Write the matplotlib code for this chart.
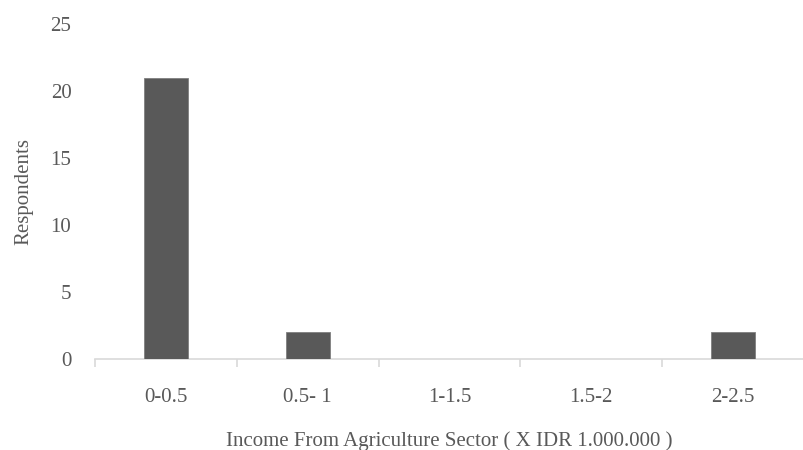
import matplotlib.pyplot as plt

# income bins (million IDR) and respondent counts
categories = ['0-0.5', '0.5- 1', '1-1.5', '1.5-2', '2-2.5']
respondents = [21, 2, 0, 0, 2]

plt.rcParams['font.family'] = ['Liberation Serif', 'DejaVu Serif']

fig = plt.figure(figsize=(8.04, 4.5), dpi=100)
ax = fig.add_axes([95 / 804, 91 / 450, 709 / 804, 335 / 450])

x = list(range(len(categories)))
ax.bar(x, respondents, width=0.31, color='#595959', edgecolor='#7f7f7f', linewidth=0.6, zorder=3)

ax.set_xlim(-0.5, 4.45)
ax.set_ylim(0, 25)
ax.set_yticks([0, 5, 10, 15, 20, 25])

for s in ['top', 'right', 'left']:
    ax.spines[s].set_visible(False)
ax.spines['bottom'].set_color('#d9d9d9')
ax.spines['bottom'].set_linewidth(1.2)

# category labels centred, tick marks between categories
ax.set_xticks(x)
ax.set_xticklabels(categories)
ax.tick_params(axis='x', length=0, pad=21, labelsize=15, labelcolor='#595959')
ax.set_xticks([i - 0.5 for i in range(len(categories) + 1)], minor=True)
ax.tick_params(axis='x', which='minor', length=6, color='#d9d9d9', width=1.2)
ax.tick_params(axis='y', length=0, pad=17, labelsize=15, labelcolor='#595959')

ax.set_ylabel('Respondents', fontsize=15, color='#595959', labelpad=12)
ax.set_xlabel('Income From Agriculture Sector ( X IDR 1.000.000 )', fontsize=15,
              color='#595959', labelpad=17)

fig.savefig('out.png', dpi=100)
